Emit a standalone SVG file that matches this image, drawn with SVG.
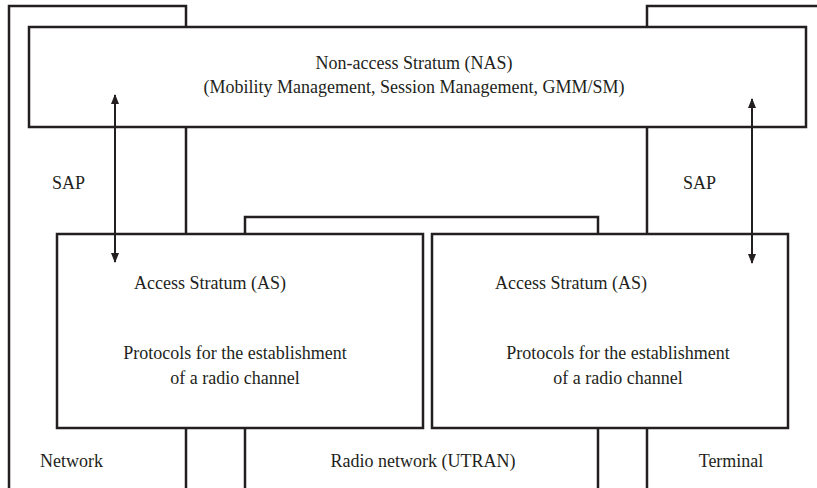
<svg xmlns="http://www.w3.org/2000/svg" width="817" height="488" viewBox="0 0 817 488">
<style>
.ln{fill:none;stroke:#231f20;stroke-width:2.5}
.box{fill:#fff;stroke:#231f20;stroke-width:2.5}
.t{font-family:"Liberation Serif","Times New Roman",serif;font-size:18px;fill:#231f20}
.c{text-anchor:middle}
.arr{stroke:#231f20;stroke-width:2;fill:none;marker-start:url(#ah);marker-end:url(#ah)}
</style>
<defs>
<marker id="ah" viewBox="0 0 10 8" refX="9" refY="4" markerWidth="10" markerHeight="8" markerUnits="userSpaceOnUse" orient="auto-start-reverse">
<path d="M0,0 L10,4 L0,8 Z" fill="#231f20"/>
</marker>
</defs>
<g id="regions">
<g id="network-region"><path class="ln" d="M9,488 V6 H186 V488"/><text class="t" x="40" y="467">Network</text></g>
<g id="radio-region"><path class="ln" d="M245,488 V217 H598 V488"/><text class="t c" x="423" y="467">Radio network (UTRAN)</text></g>
<g id="terminal-region"><path class="ln" d="M817,6 H647 V488"/><text class="t c" x="731" y="467">Terminal</text></g>
</g>
<g id="nas">
<rect class="box" x="29" y="27" width="777" height="100"/>
<text class="t c" x="414" y="69">Non-access Stratum (NAS)</text>
<text class="t c" x="414" y="93">(Mobility Management, Session Management, GMM/SM)</text>
</g>
<g id="as-network">
<rect class="box" x="57" y="234" width="366" height="194"/>
<text class="t c" x="210" y="289">Access Stratum (AS)</text>
<text class="t c" x="235" y="359">Protocols for the establishment</text>
<text class="t c" x="235" y="384">of a radio channel</text>
</g>
<g id="as-terminal">
<rect class="box" x="432" y="234" width="356" height="194"/>
<text class="t c" x="571" y="289">Access Stratum (AS)</text>
<text class="t c" x="618" y="359">Protocols for the establishment</text>
<text class="t c" x="618" y="384">of a radio channel</text>
</g>
<g id="connectors">
<line class="arr" x1="115" y1="95" x2="115" y2="262"/>
<line class="arr" x1="752" y1="99" x2="752" y2="263"/>
<text class="t" x="52" y="189">SAP</text>
<text class="t" x="683" y="189">SAP</text>
</g>
</svg>
